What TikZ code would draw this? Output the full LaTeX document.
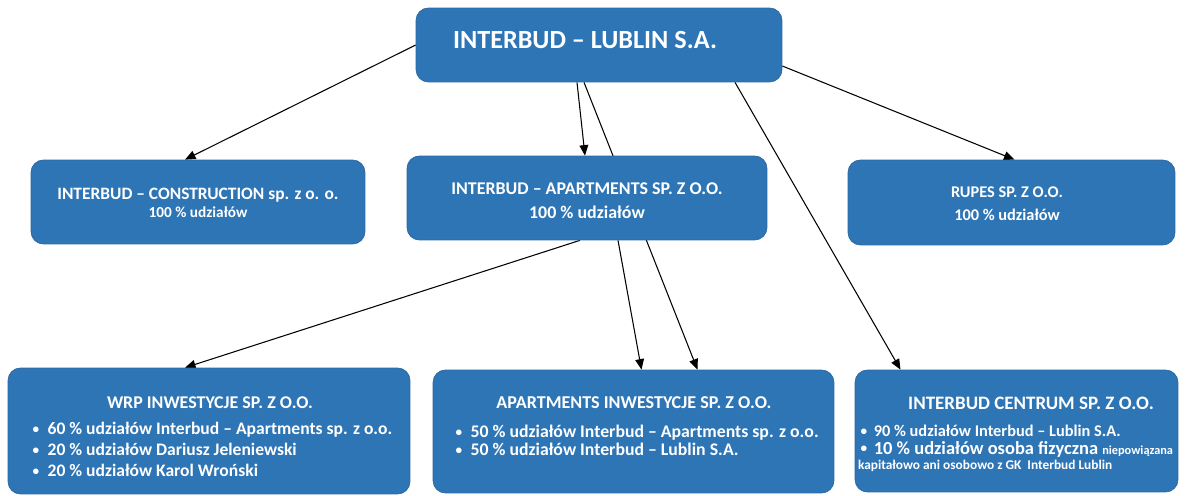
\documentclass[tikz,border=0pt]{standalone}
\usepackage{fontspec}
\setmainfont{Carlito}
\usetikzlibrary{positioning,calc,arrows.meta}
\definecolor{boxblue}{HTML}{2E75B6}
\definecolor{boxedge}{HTML}{2A68A2}
\pgfdeclarelayer{bg}
\pgfsetlayers{bg,main}
\newcommand{\dotitem}{\makebox[10pt][l]{\hspace{1.5pt}\raisebox{0.6pt}{\fontsize{7.5}{7.5}\selectfont\textbullet}}}

\begin{document}
\begin{tikzpicture}[x=0.02cm, y=-0.02cm,
    box/.style = {draw=boxedge, fill=boxblue, rounded corners=7pt, line width=0.4pt},
    txt/.style = {text=white, font=\bfseries, align=center, inner sep=0pt},
    list/.style = {text=white, font=\bfseries\fontsize{10}{12}\selectfont, align=left, inner sep=0pt, anchor=north west},
    link/.style = {line width=0.6pt, -{Triangle[length=6pt, width=5pt]}}]
	\useasboundingbox (0,0) rectangle (1190,496);
	% top level
	\node[box, minimum width=7.32cm, minimum height=1.48cm] (top) at (599,45) {};
	\node[txt, font=\bfseries\fontsize{14.9}{17}\selectfont] (topT) at (585,40) {INTERBUD -- LUBLIN S.A.};
	% middle row
	\node[box, minimum width=6.68cm, minimum height=1.68cm] (cons) at (198,202) {};
	\node[txt, font=\bfseries\fontsize{9.9}{11}\selectfont] (consT) at (198,203) {INTERBUD -- CONSTRUCTION sp. z o. o.\\[-1pt]{\fontsize{8.7}{10}\selectfont 100 \% udziałów}};
	\node[box, minimum width=7.2cm, minimum height=1.68cm] (apt) at (587,198) {};
	\node[txt, font=\bfseries\fontsize{10.2}{12}\selectfont] (aptT) at (587,201) {INTERBUD -- APARTMENTS SP. Z O.O.\\[1.5pt]100 \% udziałów};
	\node[box, minimum width=6.54cm, minimum height=1.7cm] (rupes) at (1011.5,202.5) {};
	\node[txt, font=\bfseries\fontsize{9.3}{11}\selectfont] (rupesT) at (1007,204) {RUPES SP. Z O.O.\\[2pt]100 \% udziałów};
	% bottom row
	\node[box, minimum width=8.04cm, minimum height=2.52cm] (wrp) at (209,431) {};
	\node[txt, font=\bfseries\fontsize{10.2}{12}\selectfont] (wrpT) at (210,403) {WRP INWESTYCJE SP. Z O.O.};
	\node[list] (wrpL) at ($(wrp.north west)+(22,54)$) {\dotitem 60 \% udziałów Interbud -- Apartments sp. z o.o.\\
		\dotitem 20 \% udziałów Dariusz Jeleniewski\\
		\dotitem 20 \% udziałów Karol Wroński};
	\node[box, minimum width=8.02cm, minimum height=2.46cm] (ainw) at (633.5,431.5) {};
	\node[txt, font=\bfseries\fontsize{10.3}{12}\selectfont] (ainwT) at (634,403) {APARTMENTS INWESTYCJE SP. Z O.O.};
	\node[list, font=\bfseries\fontsize{10.1}{10.5}\selectfont] (ainwL) at ($(ainw.north west)+(20,55)$) {\dotitem 50 \% udziałów Interbud -- Apartments sp. z o.o.\\
		\dotitem 50 \% udziałów Interbud -- Lublin S.A.};
	\node[box, minimum width=6.46cm, minimum height=2.44cm] (cent) at (1016.5,431) {};
	\node[txt, font=\bfseries\fontsize{10.8}{12}\selectfont] (centT) at (1031,403) {INTERBUD CENTRUM SP. Z O.O.};
	\node[list, font=\bfseries\fontsize{10.5}{10}\selectfont] (centL) at ($(cent.north west)+(3,55)$) {\makebox[9pt][l]{\hspace{1.5pt}\raisebox{0.6pt}{\fontsize{7.5}{7.5}\selectfont\textbullet}}{\fontsize{9.3}{10}\selectfont 90 \% udziałów Interbud -- Lublin S.A.}\\
		\makebox[9pt][l]{\hspace{1.5pt}\raisebox{0.6pt}{\fontsize{7.5}{7.5}\selectfont\textbullet}}10 \% udziałów osoba fizyczna {\fontsize{7}{8}\selectfont niepowiązana}\\[-1pt]
		{\fontsize{7.6}{8}\selectfont kapitałowo ani osobowo z GK\ \ Interbud Lublin}};
	% connectors
	\begin{pgfonlayer}{bg}
		\draw[link] (top.west) -- ($(cons.north)+(-13,0)$);
		\draw[link] ($(top.south)+(-22,0)$) -- ($(apt.north)+(-2,0)$);
		\draw[link] ($(top.south)+(-15,0)$) -- ($(ainw.north)+(64,0)$);
		\draw[link] ($(top.south)+(136,0)$) -- ($(cent.north)+(-116,0)$);
		\draw[link] ($(top.east)+(0,21)$) -- ($(rupes.north)+(3,0)$);
		\draw[link] ($(apt.south)+(-7,0)$) -- ($(wrp.north)+(-24,0)$);
		\draw[link] ($(apt.south)+(31,0)$) -- ($(ainw.north)+(8,0)$);
	\end{pgfonlayer}
\end{tikzpicture}
\end{document}
